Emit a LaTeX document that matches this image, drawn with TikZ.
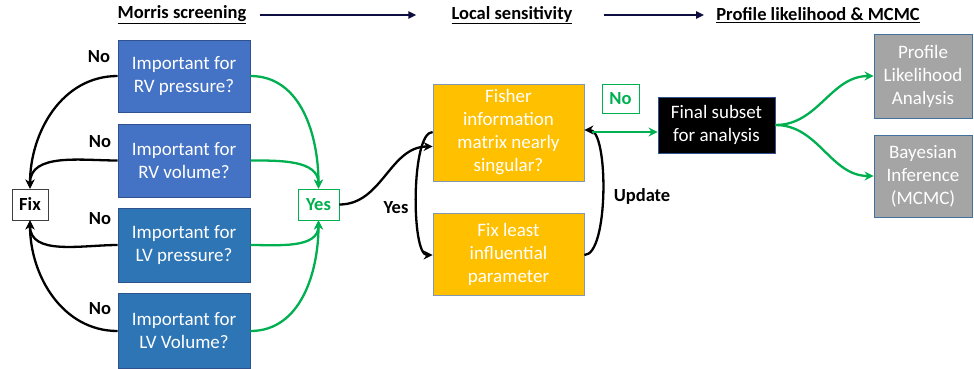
\documentclass[tikz,border=0pt]{standalone}
\usepackage{fontspec}
\setmainfont{Carlito}
\usetikzlibrary{arrows.meta,calc}
\definecolor{blueA}{RGB}{68,114,196}
\definecolor{blueB}{RGB}{46,117,182}
\definecolor{blueBorder}{RGB}{47,82,143}
\definecolor{orangeF}{RGB}{255,192,0}
\definecolor{orangeBorder}{RGB}{132,151,176}
\definecolor{grayF}{RGB}{165,165,165}
\definecolor{grayBorder}{RGB}{65,113,156}
\definecolor{greenA}{RGB}{0,176,80}
\definecolor{navy}{RGB}{13,13,64}
\tikzset{
  txt/.style={font=\fontsize{19}{23}\selectfont},
  box/.style={txt, draw, line width=0.8pt, align=center, inner sep=0pt, text=white},
  qbox/.style={box, fill=blueA, draw=blueBorder, minimum width=132pt},
  qboxb/.style={box, fill=blueB, draw=blueBorder, minimum width=132pt},
  obox/.style={box, fill=orangeF, draw=orangeBorder, minimum width=151pt},
  gbox/.style={box, fill=grayF, draw=grayBorder, minimum width=98pt},
  lbl/.style={font=\fontsize{18.5}{23}\selectfont\bfseries},
  head/.style={font=\fontsize{18.5}{23}\selectfont\bfseries, inner sep=0pt},
  blk/.style={line width=2.3pt, -{Stealth[length=9pt,width=9pt]}},
  grn/.style={line width=2.3pt, draw=greenA, -{Stealth[length=9pt,width=9pt]}},
  hdr/.style={line width=2pt, draw=navy, -{Triangle[length=8pt,width=7pt]}},
}
\begin{document}
\begin{tikzpicture}[x=1pt,y=-1pt]
\useasboundingbox (0,0) rectangle (974,368);
% headers
\node[head] (morris) at (182,15) {\underline{Morris screening}};
\node[head] (local) at (512,15) {\underline{Local sensitivity}};
\node[head] (prof) at (818,15) {\underline{Profile likelihood \& MCMC}};
\draw[hdr] ([xshift=13pt]morris.east) -- ([xshift=-35pt]local.west);
\draw[hdr] ([xshift=31pt]local.east) -- ([xshift=-12pt]prof.west);
% Morris boxes
\node[qbox, minimum height=72pt] (rvp) at (184,76) {Important for\\RV pressure?};
\node[qbox, minimum height=73pt] (rvv) at (184,160.5) {Important for\\RV volume?};
\node[qboxb, minimum height=74pt] (lvp) at (184,245) {Important for\\LV pressure?};
\node[qboxb, minimum height=75pt] (lvv) at (184,331) {Important for\\LV Volume?};
\node[lbl, draw=black!75, line width=0.8pt, fill=white, minimum width=36pt, minimum height=31pt, inner sep=0pt] (fix) at (30,204.5) {Fix};
\node[lbl, draw=greenA, text=greenA, line width=0.8pt, fill=white, minimum width=41pt, minimum height=31pt, inner sep=0pt] (yes) at (318.5,204.5) {Yes};
\node[lbl] (no1) at (99,57) {No};
\node[lbl] (no2) at (100,142) {No};
\node[lbl] (no3) at (100,219) {No};
\node[lbl] (no4) at (100,309) {No};
% Morris arrows
\draw[blk] (rvp.west) to[out=180,in=90] (fix.north);
\draw[blk] (rvv.west) to[out=180,in=90] (fix.north);
\draw[blk] (lvp.west) to[out=180,in=-90] (fix.south);
\draw[blk] (lvv.west) to[out=180,in=-90] (fix.south);
\draw[grn] (rvp.east) to[out=0,in=90] (yes.north);
\draw[grn] (rvv.east) to[out=0,in=90] (yes.north);
\draw[grn] (lvp.east) to[out=0,in=-90] (yes.south);
\draw[grn] (lvv.east) to[out=0,in=-90] (yes.south);
% Local sensitivity
\node[obox, minimum height=97pt] (fim) at (508.5,132.5) {Fisher\\information\\matrix nearly\\singular?};
\node[obox, minimum height=82pt] (fixl) at (508.5,254) {Fix least\\influential\\parameter};
\draw[blk] (yes.east) to[out=0,in=180] ([yshift=-14pt]fim.west);
\draw[blk] ([yshift=0.5pt]fim.west) to[out=180,in=180,looseness=0.45] ([yshift=-1pt]fixl.west);
\draw[blk] ([yshift=-1pt]fixl.east) to[out=0,in=0,looseness=0.5] ([yshift=2.5pt]fim.east);
\node[lbl] (yeslbl) at (396,208) {Yes};
\node[lbl] (upd) at (642,196) {Update};
\node[lbl, draw=greenA, text=greenA, line width=0.8pt, minimum width=37pt, minimum height=29pt, inner sep=0pt] (no5) at (620.5,98.5) {No};
% Final
\node[box, fill=black, draw=blueBorder, minimum width=117pt, minimum height=56pt] (final) at (716.5,125) {Final subset\\for analysis};
\coordinate (s1) at (592,132);
\draw[grn] (s1) -- (s1 -| final.west);
\node[gbox, minimum height=84pt] (pla) at (923,76) {Profile\\Likelihood\\Analysis};
\node[gbox, minimum height=82pt] (bi) at (923,176) {Bayesian\\Inference\\(MCMC)};
\draw[grn] (final.east) to[out=0,in=180] (pla.west);
\draw[grn] (final.east) to[out=0,in=180] (bi.west);
\end{tikzpicture}
\end{document}
